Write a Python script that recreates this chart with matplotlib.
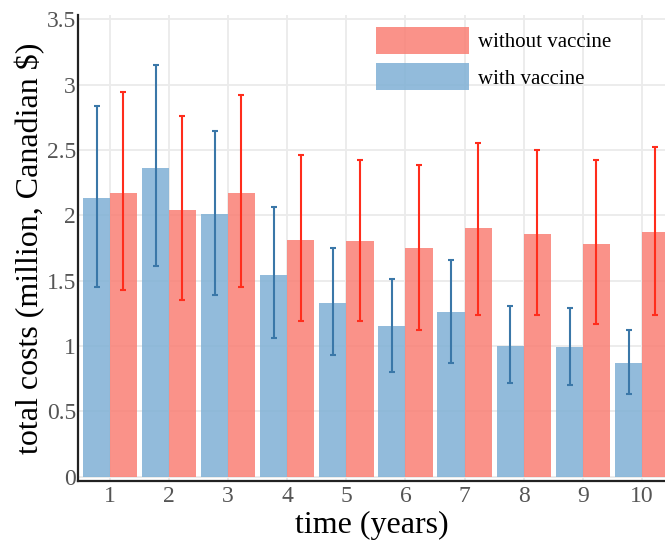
import numpy as np
import matplotlib
matplotlib.use("Agg")
import matplotlib.pyplot as plt

# yearly totals (million CAD) with lower/upper bounds of the interval
years = [1, 2, 3, 4, 5, 6, 7, 8, 9, 10]

with_vacc = [2.13, 2.36, 2.01, 1.54, 1.33, 1.15, 1.26, 1.00, 0.99, 0.87]
with_lo = [1.45, 1.61, 1.39, 1.06, 0.93, 0.80, 0.87, 0.715, 0.705, 0.63]
with_hi = [2.84, 3.15, 2.645, 2.06, 1.75, 1.51, 1.655, 1.305, 1.29, 1.12]

without_vacc = [2.17, 2.04, 2.17, 1.81, 1.80, 1.75, 1.90, 1.86, 1.78, 1.87]
without_lo = [1.43, 1.35, 1.455, 1.19, 1.19, 1.12, 1.24, 1.235, 1.17, 1.235]
without_hi = [2.94, 2.76, 2.92, 2.46, 2.42, 2.385, 2.555, 2.50, 2.425, 2.52]

plt.rcParams['font.family'] = ['Liberation Serif', 'DejaVu Serif']

fig = plt.figure(figsize=(6.65, 5.41), dpi=100)
ax = fig.add_axes([0.1173, 0.1115, 0.8827, 0.8608])

x = np.array(years, dtype=float)
w = 0.46

blue = '#7fb0d5'
red = '#fa7f74'

def err(vals, lo, hi):
    vals, lo, hi = np.array(vals), np.array(lo), np.array(hi)
    return [vals - lo, hi - vals]

ax.bar(x - w / 2, with_vacc, width=w, color=blue, alpha=0.85, zorder=2,
       label='with vaccine')
ax.bar(x + w / 2, without_vacc, width=w, color=red, alpha=0.85, zorder=2,
       label='without vaccine')
ax.errorbar(x - w / 2 + 0.005, with_vacc, yerr=err(with_vacc, with_lo, with_hi),
            fmt='none', ecolor='#3a77a8', elinewidth=1.5, capsize=2.2,
            capthick=1.5, zorder=3)
ax.errorbar(x + w / 2 - 0.005, without_vacc,
            yerr=err(without_vacc, without_lo, without_hi),
            fmt='none', ecolor='#ff2d1c', elinewidth=1.5, capsize=2.2,
            capthick=1.5, zorder=3)

ax.set_xlim(0.46, 10.39)
ax.set_ylim(-0.031, 3.533)
ax.set_xticks(years)
ax.set_yticks([0, 0.5, 1, 1.5, 2, 2.5, 3, 3.5])
ax.set_yticklabels(['0', '0.5', '1', '1.5', '2', '2.5', '3', '3.5'])
ax.grid(True, color='#ebebeb', linewidth=1.3, zorder=0)
ax.set_axisbelow(True)

for s in ['top', 'right']:
    ax.spines[s].set_visible(False)
for s in ['left', 'bottom']:
    ax.spines[s].set_linewidth(1.6)
    ax.spines[s].set_color('#222222')

ax.tick_params(axis='both', length=0, labelsize=17, labelcolor='#555555')
ax.tick_params(axis='x', pad=4)
ax.tick_params(axis='y', pad=1.5)

ax.set_xlabel('time (years)', fontsize=23, labelpad=3)
ax.set_ylabel('total costs (million, Canadian $)', fontsize=23, labelpad=1)

handles, labels = ax.get_legend_handles_labels()
ax.legend(handles[::-1], labels[::-1], loc='upper left',
          bbox_to_anchor=(0.483, 1.005), frameon=False, fontsize=15,
          handlelength=4.45, handleheight=1.6, labelspacing=0.45,
          handletextpad=0.45, borderaxespad=0.3)

fig.savefig('out.png', dpi=100)
